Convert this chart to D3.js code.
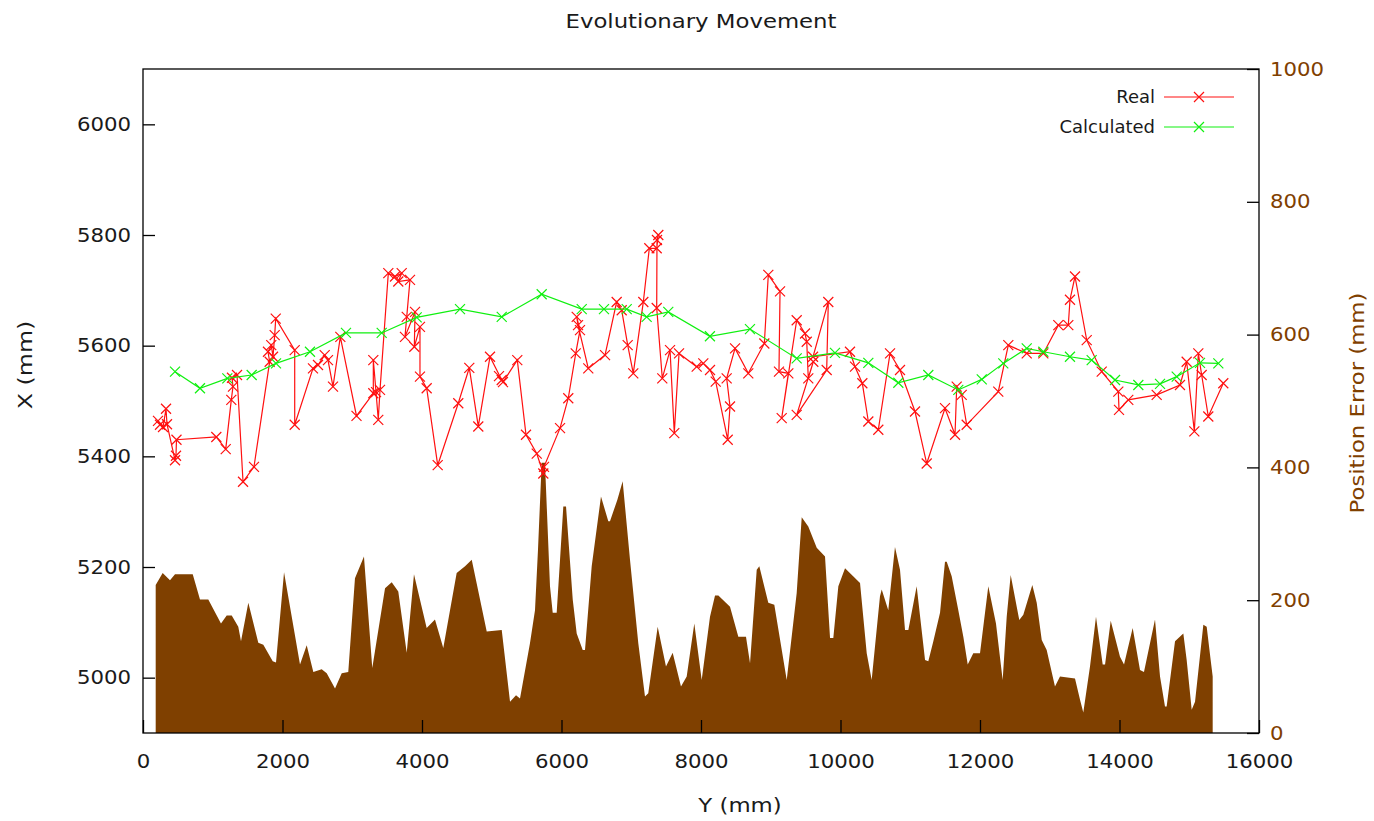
<!DOCTYPE html>
<html><head><meta charset="utf-8">
<script src="https://cdn.jsdelivr.net/npm/d3@7"></script>
<style>
body{margin:0;background:#fff;}
text{font-family:"DejaVu Sans",sans-serif;}
</style></head>
<body><svg id="c" width="1374" height="821"></svg>
<script>
// ---- data ----
const errY = [182,282,387,459,713,817,936,1118,1200,1272,1366,1405,1510,1653,1725,1860,1907,2022,2251,2347,2442,2562,2634,2753,2849,2943,3039,3168,3287,3470,3566,3660,3781,3885,4067,4186,4305,4497,4617,4713,4928,5143,5262,5348,5405,5548,5620,5663,5716,5763,5835,5874,5931,5979,6026,6065,6161,6218,6304,6337,6433,6566,6671,6695,6800,6877,6982,7101,7197,7244,7379,7498,7594,7713,7795,7904,8010,8129,8201,8249,8416,8535,8645,8703,8799,8836,8965,9051,9229,9372,9444,9538,9659,9778,9850,9897,9969,10065,10280,10376,10447,10566,10591,10685,10781,10853,10925,10973,11092,11212,11259,11331,11427,11498,11523,11594,11689,11761,11824,11904,12000,12119,12229,12325,12383,12440,12563,12621,12750,12813,12885,12956,13075,13147,13362,13434,13481,13577,13663,13759,13793,13874,14007,14065,14189,14294,14351,14509,14581,14652,14676,14796,14915,14963,15035,15083,15202,15250,15307,15336];
const errVal = [223,241,230,239,239,201,201,165,177,177,160,138,196,136,133,108,106,242,103,132,92,96,90,67,90,92,233,266,98,218,227,213,121,239,158,171,128,241,251,261,153,155,47,57,52,135,185,276,407,407,221,181,181,261,341,341,201,150,125,125,251,356,319,319,351,379,261,135,55,60,160,100,121,70,85,165,80,175,207,207,190,145,145,105,246,251,196,193,80,211,325,311,279,266,143,143,221,248,226,120,80,206,216,185,280,246,155,155,221,110,108,138,181,258,258,236,185,145,103,120,120,221,165,80,175,238,170,178,223,196,140,125,70,85,82,50,31,100,175,103,103,169,115,103,158,95,92,171,85,40,40,138,150,110,35,47,163,160,110,85];

const realY = [244,215,287,330,344,459,473,480,1051,1186,1266,1290,1276,1348,1434,1591,1816,1792,1839,1864,1888,1903,2175,2175,2437,2509,2605,2652,2724,2829,3061,3302,3302,3341,3373,3398,3517,3613,3709,3660,3828,3781,3756,3900,3890,3971,3971,4067,4225,4520,4678,4807,4975,5143,5104,5161,5366,5491,5645,5739,5749,5979,6097,6204,6265,6218,6237,6384,6624,6791,6863,6949,7029,7173,7259,7365,7388,7369,7365,7445,7556,7617,7685,7938,8033,8129,8211,8383,8416,8368,8488,8678,8908,8965,9133,9118,9252,9157,9372,9491,9516,9538,9610,9372,9802,9825,9606,10136,10208,10313,10399,10542,10710,10853,11068,11236,11498,11642,11666,11738,11809,12262,12406,12670,12908,13123,13266,13290,13362,13530,13745,13983,13993,14126,14533,14867,14963,15073,15130,15178,15273,15488];
const realX = [5457,5464,5453,5486,5458,5393,5401,5430,5435,5413,5502,5526,5542,5547,5354,5381,5571,5589,5601,5580,5619,5649,5592,5457,5559,5565,5583,5574,5526,5616,5473,5514,5574,5516,5466,5520,5731,5725,5731,5716,5719,5652,5616,5661,5598,5634,5544,5523,5384,5496,5560,5454,5580,5538,5545,5534,5574,5439,5405,5369,5381,5451,5505,5586,5628,5652,5637,5559,5583,5679,5664,5601,5550,5679,5776,5776,5800,5791,5668,5541,5592,5442,5586,5562,5568,5556,5535,5430,5490,5541,5595,5550,5604,5728,5698,5553,5550,5469,5646,5622,5607,5541,5571,5475,5556,5679,5580,5589,5562,5532,5463,5448,5586,5556,5481,5387,5487,5439,5526,5511,5457,5517,5601,5586,5586,5637,5637,5683,5725,5610,5553,5517,5484,5502,5511,5529,5571,5445,5586,5547,5472,5532];

const calcY = [459,817,1209,1558,1907,2394,2910,3422,3924,4545,5143,5716,6290,6609,6935,7221,7531,8128,8702,9372,9921,10399,10829,11259,11689,12025,12334,12670,12908,13290,13601,13936,14270,14581,14820,15154,15417];
const calcX = [5553,5523,5541,5547,5568,5589,5623,5623,5651,5666,5652,5693,5666,5666,5666,5652,5661,5617,5630,5577,5587,5569,5533,5547,5520,5539,5568,5595,5589,5580,5574,5538,5529,5531,5544,5569,5568];

const xTicks = [0,2000,4000,6000,8000,10000,12000,14000,16000];
const yTicks = [5000,5200,5400,5600,5800,6000];
const y2Ticks = [0,200,400,600,800,1000];
const seriesNames = ["Real","Calculated"];

// ---- chart ----
const svg = d3.select("#c");
const L=143,R=1259,T=69,B=733;
const x = d3.scaleLinear().domain([0,16000]).range([L,R]);
const y = d3.scaleLinear().domain([4900,6100]).range([B,T]);
const y2 = d3.scaleLinear().domain([0,1000]).range([B,T]);
const brown="#7f4000";
const txt="#1a1a1a";

function label(tx,ty,rot,sx,size,fill,anchor,s){
  svg.append("text")
    .attr("transform",`translate(${tx},${ty}) rotate(${rot}) scale(${sx},1)`)
    .attr("text-anchor",anchor).attr("font-size",size).attr("fill",fill).text(s);
}

label(701,28,0,1.2,19,txt,"middle","Evolutionary Movement");

// area
const errData = errY.map((d,i)=>({y:d,v:errVal[i]}));
svg.append("path").datum(errData)
  .attr("d",d3.area().x(d=>x(d.y)).y0(y2(0)).y1(d=>y2(d.v)))
  .attr("fill",brown);

const marker = "M-5,-5L5,5M-5,5L5,-5";
function drawSeries(ys,xs,color){
  const data = ys.map((d,i)=>({a:d,b:xs[i]}));
  svg.append("path").datum(data)
    .attr("d",d3.line().x(d=>x(d.a)).y(d=>y(d.b)))
    .attr("fill","none").attr("stroke",color).attr("stroke-width",1.2);
  svg.append("g").selectAll("path").data(data).join("path")
    .attr("transform",d=>`translate(${x(d.a)},${y(d.b)})`)
    .attr("d",marker).attr("stroke",color).attr("stroke-width",1.2).attr("fill","none");
}
drawSeries(realY,realX,"#ff1010");
drawSeries(calcY,calcX,"#10f010");

// border
svg.append("rect").attr("x",L).attr("y",T).attr("width",R-L).attr("height",B-T)
  .attr("fill","none").attr("stroke","#000").attr("stroke-width",1.3);

// axes
const fs=19, tsx=1.12;
const gx = svg.append("g").attr("transform",`translate(0,${B})`)
  .call(d3.axisBottom(x).tickValues(xTicks).tickSizeInner(-13).tickSizeOuter(0).tickPadding(22).tickFormat(d3.format("d")));
const gy = svg.append("g").attr("transform",`translate(${L},0)`)
  .call(d3.axisLeft(y).tickValues(yTicks).tickSizeInner(-12).tickSizeOuter(0).tickPadding(12).tickFormat(d3.format("d")));
const gy2 = svg.append("g").attr("transform",`translate(${R},0)`)
  .call(d3.axisRight(y2).tickValues(y2Ticks).tickSizeInner(-12).tickSizeOuter(0).tickPadding(11).tickFormat(d3.format("d")));
[gx,gy,gy2].forEach(g=>{g.select(".domain").remove();
  g.selectAll("text").each(function(){
    const t=d3.select(this); const tx=+t.attr("x")||0, ty=+t.attr("y")||0;
    t.attr("x",0).attr("y",0).attr("transform",`translate(${tx},${ty}) scale(${tsx},1)`);
  }).attr("font-size",fs).attr("font-family","DejaVu Sans").attr("fill",txt);
  g.selectAll("line").attr("stroke","#000").attr("stroke-width",1.3);});
gy2.selectAll("text").attr("fill",brown);

// axis labels
label(740,812,0,1.2,19,txt,"middle","Y  (mm)");
label(32,365,-90,1.25,19,txt,"middle","X (mm)");
label(1364,403,-90,1.2,19,brown,"middle","Position Error (mm)");

// legend
const leg=[{n:seriesNames[0],c:"#ff1010",yy:97},{n:seriesNames[1],c:"#10f010",yy:127}];
leg.forEach(l=>{
  label(1155,l.yy+6,0,1.0,18,txt,"end",l.n);
  svg.append("line").attr("x1",1164).attr("x2",1234).attr("y1",l.yy).attr("y2",l.yy).attr("stroke",l.c).attr("stroke-width",1.2);
  svg.append("path").attr("transform",`translate(1199,${l.yy})`).attr("d",marker).attr("stroke",l.c).attr("stroke-width",1.2).attr("fill","none");
});
</script></body></html>
